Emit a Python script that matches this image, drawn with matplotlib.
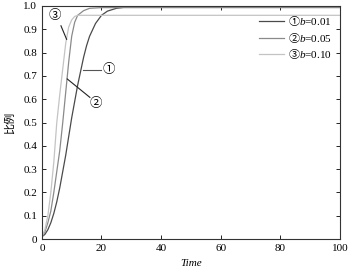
import matplotlib
matplotlib.use('Agg')
import matplotlib.pyplot as plt
import numpy as np

plt.rcParams['font.family'] = ['Liberation Serif', 'Noto Sans CJK SC']
plt.rcParams['mathtext.fontset'] = 'custom'
plt.rcParams['mathtext.rm'] = 'Liberation Serif'
plt.rcParams['mathtext.it'] = 'Liberation Serif:italic'
plt.rcParams['mathtext.sf'] = 'Noto Sans CJK SC'

# curves
t1 = [0, 1, 2, 3, 4, 5, 6, 7, 8, 9, 10, 11, 12, 13, 14, 15, 16, 18, 20, 22, 25, 28, 30, 100]
p1 = [0.01, 0.02, 0.04, 0.07, 0.11, 0.16, 0.22, 0.29, 0.36, 0.44, 0.52, 0.59, 0.66, 0.72,
      0.78, 0.83, 0.87, 0.925, 0.96, 0.978, 0.99, 0.995, 0.997, 0.997]
t2 = [0, 1, 2, 3, 4, 5, 6, 7, 8, 9, 10, 11, 12, 14, 16, 20, 100]
p2 = [0.01, 0.03, 0.07, 0.12, 0.2, 0.29, 0.38, 0.5, 0.63, 0.76, 0.87, 0.93, 0.96, 0.98,
      0.99, 0.993, 0.993]
t3 = [0, 1, 2, 3, 4, 5, 6, 7, 8, 9, 10, 11, 12, 15, 100]
p3 = [0.01, 0.04, 0.1, 0.2, 0.33, 0.5, 0.62, 0.73, 0.84, 0.91, 0.94, 0.955, 0.96, 0.96, 0.96]

labels = [r'$\mathsf{①}b$=0.01', r'$\mathsf{②}b$=0.05', r'$\mathsf{③}b$=0.10']
colors = ['#4a4a4a', '#8a8a8a', '#c4c4c4']

fig = plt.figure(figsize=(3.49, 2.72), dpi=100)
ax = fig.add_axes([0.12, 0.121, 0.854, 0.857])

ax.plot(t1, p1, color=colors[0], lw=0.9, label=labels[0])
ax.plot(t2, p2, color=colors[1], lw=0.9, label=labels[1])
ax.plot(t3, p3, color=colors[2], lw=0.9, label=labels[2])

# leader lines + circled numbers
ax.plot([13.9, 20], [0.725, 0.725], color='#555555', lw=0.8)
ax.text(20.3, 0.725, '①', fontsize=9, va='center', ha='left')
ax.plot([8.5, 16.1], [0.687, 0.608], color='#222222', lw=0.8)
ax.text(18, 0.58, '②', fontsize=9, va='center', ha='center')
ax.plot([6.4, 8.3], [0.915, 0.857], color='#222222', lw=0.8)
ax.text(4.4, 0.955, '③', fontsize=9, va='center', ha='center')

ax.set_xlim(0, 100)
ax.set_ylim(0, 1.0)
ax.set_xticks([0, 20, 40, 60, 80, 100])
ax.set_yticks(np.arange(0, 1.01, 0.1))
ax.set_yticklabels(['0'] + ['%.1f' % v for v in np.arange(0.1, 1.01, 0.1)])
ax.tick_params(direction='in', top=True, right=True, labelsize=8, length=3, width=0.6)
for s in ax.spines.values():
    s.set_linewidth(0.8)
    s.set_color('#333333')

ax.set_xlabel('Time', style='italic', fontsize=8)
ax.set_ylabel('比例', fontsize=8, labelpad=6)

ax.legend(loc='upper right', frameon=False, fontsize=8, handlelength=2.2,
          borderaxespad=0.3, labelspacing=0.25, handletextpad=0.4)

fig.savefig('out.png', dpi=100)
